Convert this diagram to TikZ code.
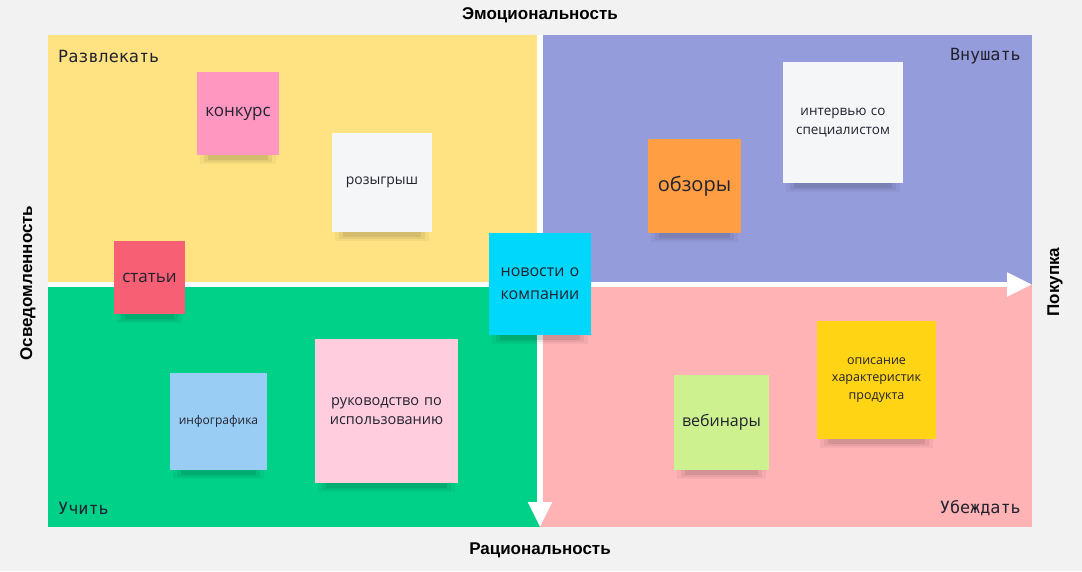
\documentclass[tikz,border=0pt]{standalone}
\usepackage{fontspec}
\setmainfont{Open Sans}
\newfontfamily\axisfont{Liberation Sans}
\newfontfamily\quadfont{DejaVu Sans Mono}
\usetikzlibrary{arrows.meta}
\definecolor{bgc}{HTML}{F2F2F2}
\definecolor{qyellow}{HTML}{FFE383}
\definecolor{qpurple}{HTML}{959CDB}
\definecolor{qgreen}{HTML}{00D189}
\definecolor{qpink}{HTML}{FFB3B5}
\definecolor{txt}{HTML}{22222E}
\definecolor{nkonkurs}{HTML}{FF97C0}
\definecolor{nwhite}{HTML}{F5F6F8}
\definecolor{nstati}{HTML}{F75F75}
\definecolor{ncyan}{HTML}{00D7FD}
\definecolor{norange}{HTML}{FF9E42}
\definecolor{nblue}{HTML}{9ACDF3}
\definecolor{nlpink}{HTML}{FFCDDE}
\definecolor{nlgreen}{HTML}{CDF18F}
\definecolor{nyellow}{HTML}{FFD415}
\newcommand\stickynote[9]{%
  \fill[black,opacity=0.04] (#2+3,#5-6) rectangle (#4-3,#5+9);
  \fill[black,opacity=0.06] (#2+7,#5-4) rectangle (#4-7,#5+7);
  \fill[black,opacity=0.08] (#2+11,#5-2) rectangle (#4-11,#5+5);
  \node[note, fill=#6, minimum width={(#4-#2)*1pt}, minimum height={(#5-#3)*1pt},
        text width={(#4-#2-10)*1pt}, font=\fontsize{#7}{#8}\selectfont]
       (#1) at ({(#2+#4)/2},{(#3+#5)/2}) {#9};}
\begin{document}
\begin{tikzpicture}[x=1pt,y=-1pt,
  note/.style={rectangle, inner sep=0pt, align=center, text=txt},
  axislabel/.style={font=\axisfont\bfseries\fontsize{17}{20}\selectfont, text=black},
  quadlabel/.style={font=\quadfont\fontsize{16.8}{20}\selectfont, text=txt, inner sep=0pt},
  axisline/.style={draw=white, line width=5.5pt, -{Triangle[length=25pt,width=23pt]}}]
\useasboundingbox (0,0) rectangle (1082,571);
\fill[bgc] (0,0) rectangle (1082,571);
% quadrants
\fill[qyellow] (48,35) rectangle (540,284.5);
\fill[qpurple] (540,35) rectangle (1032,284.5);
\fill[qgreen] (48,284.5) rectangle (540,527);
\fill[qpink] (540,284.5) rectangle (1032,527);
% axes
\coordinate (hL) at (48,284.5);
\coordinate (hR) at (1032,284.5);
\coordinate (vT) at (540,35);
\coordinate (vB) at (540,527);
\draw[axisline] (hL) -- (hR);
\draw[axisline] (vT) -- (vB);
% axis labels
\node[axislabel] (emo) at (540,15) {Эмоциональность};
\node[axislabel] (rac) at (540,550) {Рациональность};
\node[axislabel, rotate=90] (osv) at (28,283) {Осведомленность};
\node[axislabel, rotate=90] (pok) at (1055,282) {Покупка};
% quadrant labels
\node[quadlabel, anchor=west] (q1) at (58,56) {Развлекать};
\node[quadlabel, anchor=east] (q2) at (1021,56) {Внушать};
\node[quadlabel, anchor=west] (q3) at (58,508) {Учить};
\node[quadlabel, anchor=east] (q4) at (1021,508) {Убеждать};
% sticky notes
\stickynote{konkurs}{197}{72}{279}{155}{nkonkurs}{17}{22}{конкурс}
\stickynote{rozygrysh}{332}{133}{432}{232}{nwhite}{14}{19}{розыгрыш}
\stickynote{stati}{114}{241}{185}{314}{nstati}{17}{22}{статьи}
\stickynote{obzory}{648}{139}{741}{233}{norange}{20}{26}{обзоры}
\stickynote{interview}{783}{62}{903}{183}{nwhite}{13.5}{19}{интервью со\\специалистом}
\stickynote{infografika}{170}{373}{267}{470}{nblue}{12}{16}{инфографика}
\stickynote{rukovodstvo}{315}{339}{458}{483}{nlpink}{14.5}{18.5}{руководство по\\использованию}
\stickynote{vebinary}{674}{375}{769}{470}{nlgreen}{16}{21}{вебинары}
\stickynote{opisanie}{817}{321}{936}{439}{nyellow}{12.5}{17.5}{описание\\характеристик\\продукта}
\stickynote{novosti}{489}{233}{591}{335}{ncyan}{16}{23}{новости о\\компании}
\end{tikzpicture}
\end{document}
